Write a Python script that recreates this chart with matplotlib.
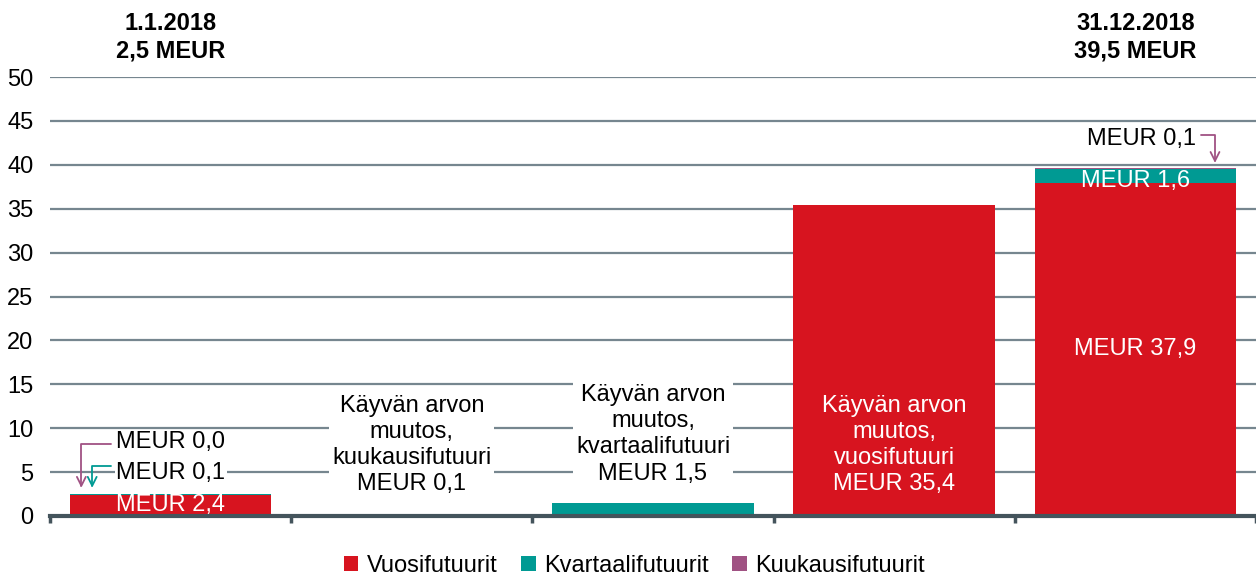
#! /usr/bin/env python3
import matplotlib.pyplot as plt
import numpy as np

plt.rcParams['font.family'] = ['Liberation Sans', 'DejaVu Sans']

categories = ["1.1.2018", "kuukausi", "kvartaali", "vuosi", "31.12.2018"]
vuosi = [2.4, 0.0, 0.0, 35.4, 37.9]
kvartaali = [0.1, 0.0, 1.5, 0.0, 1.6]
kuukausi = [0.0, 0.1, 0.0, 0.0, 0.1]
bar_texts = ["", "Käyvän arvon\nmuutos,\nkuukausifutuuri\nMEUR 0,1",
             "Käyvän arvon\nmuutos,\nkvartaalifutuuri\nMEUR 1,5",
             "Käyvän arvon\nmuutos,\nvuosifutuuri\nMEUR 35,4", ""]
yticks = [0, 5, 10, 15, 20, 25, 30, 35, 40, 45, 50]

red = '#d7141f'
teal = '#009a93'
purple = '#a05283'
gridc = '#76868f'

fig = plt.figure(figsize=(12.56, 5.75), dpi=100)
ax = fig.add_axes([50 / 1256, 59 / 575, 1 - 50 / 1256, 439 / 575])

x = np.arange(len(categories))
w = 0.835
v = np.array(vuosi)
k = np.array(kvartaali)
m = np.array(kuukausi)
ax.bar(x, v, w, color=red, label='Vuosifutuurit', zorder=3)
ax.bar(x, k, w, bottom=v, color=teal, label='Kvartaalifutuurit', zorder=3)
ax.bar(x, m, w, bottom=v + k, color=purple, label='Kuukausifutuurit', zorder=3)

ax.set_xlim(-0.5, -0.5 + (1256 - 50) / 242.4)
ax.set_ylim(0, 50)
ax.set_yticks(yticks)
ax.yaxis.grid(True, color=gridc, linewidth=1.6, zorder=0)
ax.tick_params(axis='y', length=0, labelsize=17, pad=12)
ax.set_xticks(np.arange(-0.5, 5, 1.0))
ax.set_xticklabels([])
ax.tick_params(axis='x', length=5, width=2.5, color='#44545c', direction='out')
for s in ['left', 'right', 'top']:
    ax.spines[s].set_visible(False)
ax.spines['bottom'].set_color('#44545c')
ax.spines['bottom'].set_linewidth(3)
ax.spines['bottom'].set_zorder(4)

fs = 17
ls = 1.25
# middle bars: text with white box over grid
for i in (1, 2):
    ax.text(x[i], 8.1 if i == 1 else 9.3, bar_texts[i], ha='center', va='center',
            fontsize=fs, linespacing=ls, zorder=4,
            bbox=dict(facecolor='white', edgecolor='none', pad=2))
ax.text(x[3], 8.1, bar_texts[3], ha='center', va='center', fontsize=fs,
        color='white', linespacing=ls, zorder=4)

# first bar labels
ax.text(x[0], 1.3, "MEUR 2,4", ha='center', va='center', fontsize=fs, color='white', zorder=4)
ax.text(-0.225, 8.4, "MEUR 0,0", ha='left', va='center', fontsize=fs, zorder=4,
        bbox=dict(facecolor='white', edgecolor='none', pad=1))
ax.text(-0.225, 4.9, "MEUR 0,1", ha='left', va='center', fontsize=fs, zorder=4,
        bbox=dict(facecolor='white', edgecolor='none', pad=1))
ax.annotate("", xy=(-0.37, 2.9), xytext=(-0.235, 8.2),
            arrowprops=dict(arrowstyle='->', color=purple, lw=1.3, mutation_scale=16,
                            connectionstyle='angle,angleA=0,angleB=90,rad=0'), zorder=5)
ax.annotate("", xy=(-0.325, 2.9), xytext=(-0.235, 5.7),
            arrowprops=dict(arrowstyle='->', color=teal, lw=1.3, mutation_scale=16,
                            connectionstyle='angle,angleA=0,angleB=90,rad=0'), zorder=5)

# last bar labels
ax.text(x[4], 19.0, "MEUR 37,9", ha='center', va='center', fontsize=fs, color='white', zorder=4)
ax.text(x[4], 38.2, "MEUR 1,6", ha='center', va='center', fontsize=fs, color='white', zorder=4)
ax.text(4.25, 42.9, "MEUR 0,1", ha='right', va='center', fontsize=fs, zorder=4,
        bbox=dict(facecolor='white', edgecolor='none', pad=1))
ax.annotate("", xy=(4.33, 39.9), xytext=(4.26, 43.4),
            arrowprops=dict(arrowstyle='->', color=purple, lw=1.3, mutation_scale=16,
                            connectionstyle='angle,angleA=0,angleB=90,rad=0'), zorder=5)

# top headings
ax.text(x[0], 51.6, "1.1.2018\n2,5 MEUR", ha='center', va='bottom', fontsize=fs,
        fontweight='bold', linespacing=1.25, clip_on=False)
ax.text(x[4], 51.6, "31.12.2018\n39,5 MEUR", ha='center', va='bottom', fontsize=fs,
        fontweight='bold', linespacing=1.25, clip_on=False)

fig.legend(loc='lower center', bbox_to_anchor=(0.505, -0.04), ncol=3, frameon=False,
           fontsize=fs, handlelength=0.62, handleheight=0.62, handletextpad=0.35,
           columnspacing=1.0)

plt.savefig("out.png", dpi=100)
